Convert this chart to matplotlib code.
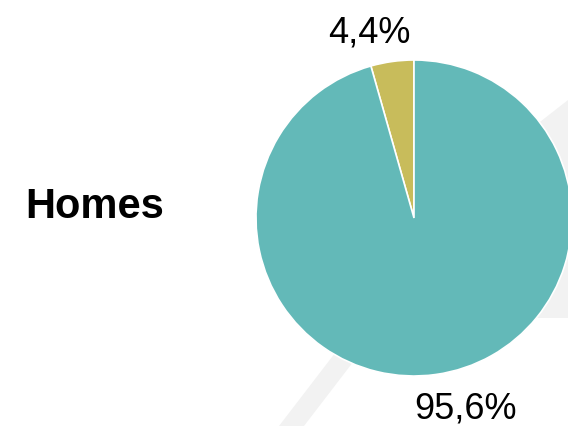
import matplotlib
matplotlib.use("Agg")
import matplotlib.pyplot as plt
from matplotlib.patches import Polygon

categories = ["Other", "Homes"]
values = [4.4, 95.6]
labels = ["4,4%", "95,6%"]
colors = ["#c8bc5b", "#63b9b8"]
title = "Homes"

W, H = 568, 426
fig = plt.figure(figsize=(W / 100, H / 100), dpi=100)
fig.patch.set_facecolor("white")

# background watermark
bg = fig.add_axes([0, 0, 1, 1], zorder=0)
bg.set_xlim(0, W)
bg.set_ylim(H, 0)
bg.axis("off")
wm = "#f2f2f2"
bg.add_patch(Polygon([(568, 100), (440, 200), (440, 318), (568, 318)], closed=True,
                     facecolor=wm, edgecolor="none"))
bg.add_patch(Polygon([(279, 426), (304, 426), (370, 340), (345, 340)], closed=True,
                     facecolor=wm, edgecolor="none"))
bg.text(95, 218.5, title, fontsize=30, fontweight="bold", family="Liberation Sans",
        ha="center", va="baseline", color="black")

ax = fig.add_axes([256 / W, 50 / H, 316 / W, 316 / H], zorder=1)
ax.set_xlim(-1, 1)
ax.set_ylim(-1, 1)
ax.set_aspect("equal")
ax.axis("off")
wedges, _ = ax.pie(values, colors=colors, startangle=90, counterclock=True,
                   radius=1.0, wedgeprops=dict(edgecolor="white", linewidth=1.2),
                   frame=False)
ax.set_xlim(-1, 1)
ax.set_ylim(-1, 1)

label_pos = [(-0.282, 1.111), (0.323, -1.272)]
for lab, (x, y) in zip(labels, label_pos):
    ax.text(x, y, lab, fontsize=26, family="Liberation Sans", ha="center", va="baseline",
            color="black", clip_on=False)

fig.savefig("out.png", dpi=100, facecolor="white")
